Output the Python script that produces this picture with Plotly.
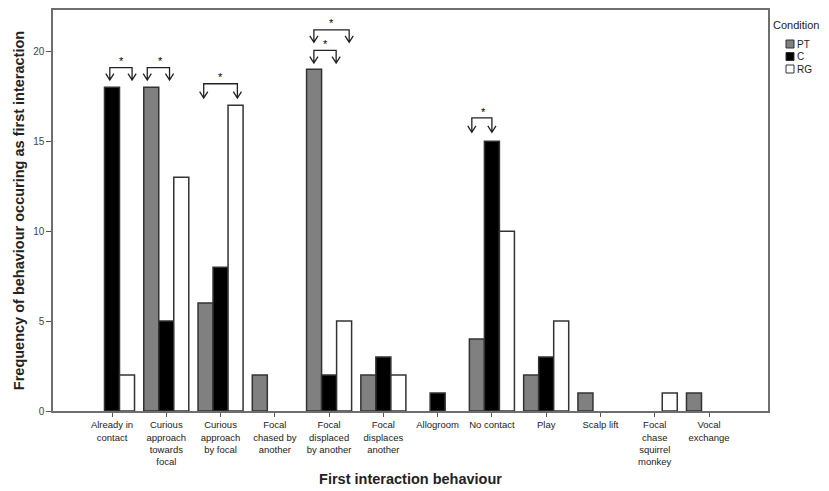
import plotly.graph_objects as go

categories = ["Already in<br>contact", "Curious<br>approach<br>towards<br>focal",
              "Curious<br>approach<br>by focal", "Focal<br>chased by<br>another",
              "Focal<br>displaced<br>by another", "Focal<br>displaces<br>another",
              "Allogroom", "No contact", "Play", "Scalp lift",
              "Focal<br>chase<br>squirrel<br>monkey", "Vocal<br>exchange"]
pt_values = [0, 18, 6, 2, 19, 2, 0, 4, 2, 1, 0, 1]
c_values = [18, 5, 8, 0, 2, 3, 1, 15, 3, 0, 0, 0]
rg_values = [2, 13, 17, 0, 5, 2, 0, 10, 5, 0, 1, 0]
y_ticks = [0, 5, 10, 15, 20]
series_names = ["PT", "C", "RG"]
series_colors = ["#808080", "#000000", "#ffffff"]

series_values = [pt_values, c_values, rg_values]

x_idx = list(range(len(categories)))
fig = go.Figure()
for name, vals, col in zip(series_names, series_values, series_colors):
    fig.add_trace(go.Bar(
        x=x_idx, y=[v if v else None for v in vals], name=name, showlegend=False,
        marker=dict(color=col, line=dict(color="#333333", width=1.5)),
    ))

# significance brackets: (category, left offset, right offset, y top, y tip, star x offset, star y)
brackets = [
    (0, -0.04, 0.37, 19.1, 18.4, 0.18, 19.45),
    (1, -0.35, 0.06, 19.1, 18.4, -0.11, 19.45),
    (2, -0.31, 0.31, 18.2, 17.4, 0.0, 18.55),
    (4, -0.28, 0.13, 20.05, 19.35, -0.07, 20.4),
    (4, -0.28, 0.37, 21.2, 20.5, 0.04, 21.55),
    (7, -0.37, 0.0, 16.3, 15.5, -0.16, 16.65),
]
dx, dy = 0.075, 0.36
shapes = []
annotations = []
for cat, lo, ro, yt, yb, so, sy in brackets:
    xl, xr = cat + lo, cat + ro
    path = (f"M{xl},{yb} L{xl},{yt} L{xr},{yt} L{xr},{yb} "
            f"M{xl-dx},{yb+dy} L{xl},{yb} L{xl+dx},{yb+dy} "
            f"M{xr-dx},{yb+dy} L{xr},{yb} L{xr+dx},{yb+dy}")
    shapes.append(dict(type="path", xref="x", yref="y", path=path,
                       line=dict(color="#222222", width=1.3)))
    annotations.append(dict(x=cat + so, y=sy, xref="x", yref="y", text="*",
                            showarrow=False, font=dict(size=11, color="#000000"),
                            yanchor="middle"))

# page offset of the figure inside the browser window (default body margin)
OFF = 8
W, H = 829 - OFF, 491 - OFF
L, R, T, B = 53 - OFF, 61, 10 - OFF, 80
pw, ph = W - L - R, H - T - B
def px(x):
    return (x - OFF - L) / pw
def py(y):
    return (H - B - (y - OFF)) / ph

# legend (drawn in paper coordinates beside the plot)
annotations.append(dict(x=px(771), y=py(25), xref="paper", yref="paper",
                        text="Condition", showarrow=False, xanchor="left",
                        yanchor="middle", font=dict(size=11, color="#222222")))
for i, (name, col) in enumerate(zip(series_names, series_colors)):
    yc = 44 + 12.5 * i
    shapes.append(dict(type="rect", xref="paper", yref="paper",
                       x0=px(786), x1=px(794), y0=py(yc - 4), y1=py(yc + 4),
                       fillcolor=col, line=dict(color="#333333", width=1)))
    annotations.append(dict(x=px(795), y=py(yc), xref="paper", yref="paper",
                            text=name, showarrow=False, xanchor="left",
                            yanchor="middle", font=dict(size=10, color="#222222")))

fig.update_layout(
    width=W, height=H,
    margin=dict(l=L, r=R, t=T, b=B),
    paper_bgcolor="white", plot_bgcolor="white",
    barmode="group", bargap=0.17, bargroupgap=0, showlegend=False,
    font=dict(family="Liberation Sans, Arial, sans-serif", size=10, color="#222222"),
    xaxis=dict(range=[-1.087, 12.087], tickvals=x_idx, ticktext=categories,
               tickangle=0, ticks="outside", ticklen=4, tickcolor="#555555",
               showline=True, linecolor="#6e6e6e", linewidth=1.5, mirror=True,
               showgrid=False, zeroline=False, tickfont=dict(size=9.5),
               automargin=False,
               title=dict(text="<b>First interaction behaviour</b>",
                          font=dict(size=14.5, color="#222222"), standoff=8)),
    yaxis=dict(range=[0, 22.3], tickvals=y_ticks, ticks="outside", ticklen=5,
               tickcolor="#555555", showline=True, linecolor="#6e6e6e",
               linewidth=1.5, mirror=True, showgrid=False, zeroline=False,
               tickfont=dict(size=10, color="#444444"), automargin=False,
               title=dict(text="<b>Frequency of behaviour occuring as first interaction</b>",
                          font=dict(size=14.5, color="#222222"), standoff=5)),
    shapes=shapes, annotations=annotations,
)

fig.write_html("out.html")
